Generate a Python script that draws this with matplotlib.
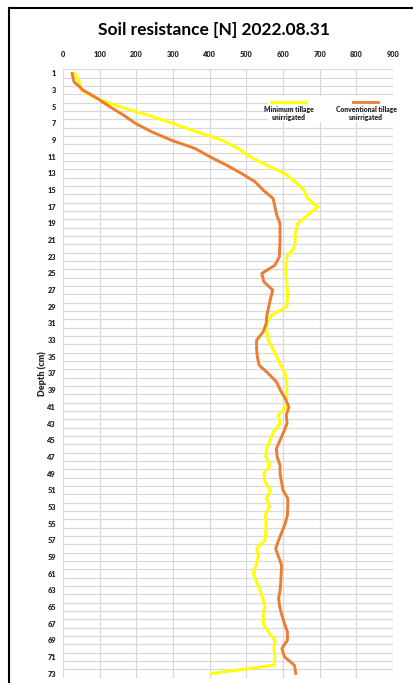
import matplotlib
matplotlib.use("Agg")
import matplotlib.pyplot as plt
from matplotlib.lines import Line2D
from matplotlib.patches import Rectangle

# depth in cm, resistance in N
depth = list(range(1, 74))
min_tillage = [33, 44, 50, 92, 155, 232, 300, 365, 433, 478,
               510, 555, 605, 633, 657, 667, 695, 667, 640, 634,
               633, 630, 610, 608, 608, 610, 612, 612, 610, 569,
               555, 556, 560, 572, 583, 594, 606, 610, 610, 610,
               608, 587, 592, 574, 565, 555, 553, 565, 548, 551,
               566, 555, 563, 551, 554, 553, 551, 528, 533, 526,
               519, 528, 537, 545, 551, 546, 546, 560, 578, 575,
               578, 575, 405]
conv_tillage = [25, 30, 55, 94, 128, 165, 198, 242, 295, 360,
                401, 446, 487, 524, 546, 573, 578, 583, 592, 592,
                592, 591, 590, 578, 542, 548, 572, 566, 561, 556,
                554, 546, 528, 528, 530, 535, 560, 582, 593, 606,
                616, 609, 611, 602, 592, 582, 584, 592, 592, 596,
                600, 613, 613, 612, 606, 597, 588, 580, 588, 596,
                595, 594, 592, 588, 591, 597, 604, 612, 612, 597,
                604, 631, 635]
x_ticks = [0, 100, 200, 300, 400, 500, 600, 700, 800, 900]
y_ticks = list(range(1, 74, 2))

W, H = 413, 683
plt.rcParams['font.family'] = ['Lato', 'DejaVu Sans']

fig = plt.figure(figsize=(W / 100, H / 100), dpi=100)
ax = fig.add_axes([63 / W, 1 - 677.7 / H, 330 / W, 608.4 / H])

yellow = "#FFFF00"
orange = "#ED7D31"
grid_c = "#D9D9D9"
txt_c = "#262626"

for v in x_ticks:
    ax.axvline(v, color=grid_c, lw=0.9, zorder=0)
for d in range(0, 74):
    ax.axhline(d + 0.5, color=grid_c, lw=0.9, zorder=0)

ax.plot(min_tillage, depth, color=yellow, lw=2.1, zorder=3)
ax.plot(conv_tillage, depth, color=orange, lw=2.1, zorder=3)

ax.set_xlim(0, 900)
ax.set_ylim(73.5, 0.5)
ax.xaxis.tick_top()
ax.set_xticks(x_ticks)
ax.set_yticks(y_ticks)
ax.tick_params(length=0, labelsize=5.3, labelcolor=txt_c)
ax.tick_params(axis='x', pad=8)
ax.tick_params(axis='y', pad=5)
for lab in ax.get_xticklabels() + ax.get_yticklabels():
    lab.set_fontweight('heavy')
for s in ax.spines.values():
    s.set_visible(False)

ax.set_ylabel("Depth (cm)", fontsize=6.5, fontweight='heavy', color=txt_c, labelpad=0)

# legend drawn by hand: short line with the name below it
ax.add_patch(Rectangle((268 / W, 1 - 122 / H), 135 / W, 26 / H, transform=fig.transFigure,
                       facecolor='white', edgecolor='none', zorder=4, clip_on=False))
fig.add_artist(Line2D([271 / W, 306 / W], [1 - 102 / H, 1 - 102 / H], color=yellow, lw=2.0, zorder=5))
fig.add_artist(Line2D([353 / W, 378 / W], [1 - 102 / H, 1 - 102 / H], color=orange, lw=2.0, zorder=5))
fig.text(289 / W, 1 - 113.5 / H, "Minimum tillage\nunirrigated", ha='center', va='center',
         fontsize=4.9, fontweight='heavy', color=txt_c, linespacing=1.1, zorder=6)
fig.text(366 / W, 1 - 113.5 / H, "Conventional tillage\nunirrigated", ha='center', va='center',
         fontsize=4.9, fontweight='heavy', color=txt_c, linespacing=1.1, zorder=6)

fig.text(214 / W, 1 - 30 / H, "Soil resistance [N] 2022.08.31", ha='center', va='center',
         fontsize=12.5, fontweight='bold', color='black')

# outer frame (top and left only)
fig.add_artist(Line2D([8.5 / W, 1], [1 - 7.5 / H, 1 - 7.5 / H], color='black', lw=1.5))
fig.add_artist(Line2D([8.5 / W, 8.5 / W], [0, 1 - 7.5 / H], color='black', lw=1.5))

fig.savefig("out.png", dpi=100, facecolor='white')
